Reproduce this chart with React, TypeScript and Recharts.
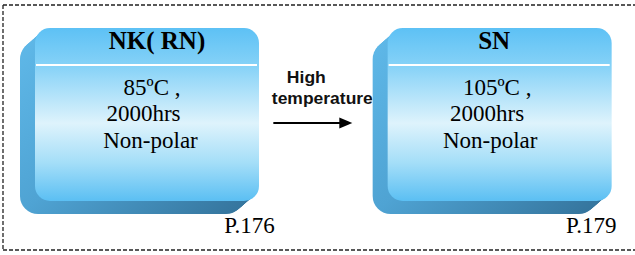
import React from "react";
import { BarChart, Bar, XAxis, YAxis, Customized } from "recharts";

// stages of the test, left to right; the middle slot holds the transition arrow
const categories = ["NK( RN)", "High temperature", "SN"];
const kinds = ["box", "arrow", "box"];
const temperatures = ["85ºC ,", "", "105ºC ,"];
const durations = ["2000hrs", "", "2000hrs"];
const polarities = ["Non-polar", "", "Non-polar"];
const pages = ["P.176", "", "P.179"];
const arrowLines = ["High", "temperature"];

const chartData = categories.map((name, i) => ({
  name,
  kind: kinds[i],
  temp: temperatures[i],
  hours: durations[i],
  polarity: polarities[i],
  page: pages[i],
  value: 1,
}));

const serif = "'Liberation Serif', 'Times New Roman', serif";
const sans = "'Liberation Sans', Arial, sans-serif";

// small per-box text nudges (title, line1, line2, line3, page)
const textShift: Record<number, number[]> = {
  0: [10, 5, -3.5, 3.5, 102.5],
  2: [-5.5, -2.5, -12.5, -9.5, 91.5],
};

const FACE_W = 224;
const DEPTH = 15;

const StageShape = (props: any) => {
  const { x, y, width, height, payload, index } = props;
  const cx = x + width / 2;

  if (payload.kind === "arrow") {
    const ay = y + 95;
    return (
      <g>
        <text x={cx - 17} y={y + 55} textAnchor="middle" fontFamily={sans} fontWeight="bold" fontSize={17} textLength={39} lengthAdjust="spacingAndGlyphs" fill="#111">
          {arrowLines[0]}
        </text>
        <text x={cx - 1} y={y + 76} textAnchor="middle" fontFamily={sans} fontWeight="bold" fontSize={17} textLength={101} lengthAdjust="spacingAndGlyphs" fill="#111">
          {arrowLines[1]}
        </text>
        <line x1={cx - 50} y1={ay} x2={cx + 18} y2={ay} stroke="#000" strokeWidth={2} />
        <polygon points={`${cx + 29},${ay} ${cx + 16},${ay - 5.5} ${cx + 16},${ay + 5.5}`} fill="#000" />
      </g>
    );
  }

  const x0 = cx - FACE_W / 2;
  const sh = textShift[index] || [0, 0, 0, 0, 0];
  const layers = [];
  for (let k = DEPTH; k >= 1; k--) {
    layers.push(
      <rect key={k} x={x0 - k} y={y + k * 0.87} width={FACE_W} height={height} rx={18} fill="url(#sideGrad)" />
    );
  }
  return (
    <g>
      {layers}
      <rect x={x0} y={y} width={FACE_W} height={height} rx={15} fill="url(#faceGrad)" />
      <line x1={x0 + 1} y1={y + 37} x2={x0 + FACE_W - 2} y2={y + 37} stroke="#fff" strokeWidth={2.2} />
      <text x={cx + sh[0]} y={y + 21} textAnchor="middle" fontFamily={serif} fontWeight="bold" fontSize={25} fill="#000">
        {payload.name}
      </text>
      <text x={cx + sh[1]} y={y + 67} textAnchor="middle" fontFamily={serif} fontSize={23} fill="#000">
        {payload.temp}
      </text>
      <text x={cx + sh[2]} y={y + 93} textAnchor="middle" fontFamily={serif} fontSize={23} fill="#000">
        {payload.hours}
      </text>
      <text x={cx + sh[3]} y={y + 120} textAnchor="middle" fontFamily={serif} fontSize={23} fill="#000">
        {payload.polarity}
      </text>
      <text x={cx + sh[4]} y={y + 205} textAnchor="middle" fontFamily={serif} fontSize={23} fill="#000">
        {payload.page}
      </text>
    </g>
  );
};

const Frame = () => (
  <g stroke="#222" strokeWidth={1.3} strokeDasharray="4 2" fill="none">
    <line x1={3} y1={5} x2={635} y2={5} />
    <line x1={3} y1={5} x2={3} y2={250} />
    <line x1={3} y1={250} x2={635} y2={250} />
  </g>
);

export default function App() {
  return (
    <div style={{ position: "absolute", left: 0, top: 0, width: 635, height: 255, background: "#fff" }}>
      <BarChart width={635} height={255} data={chartData} margin={{ top: 28, right: 47, bottom: 54, left: 59 }}>
        <defs>
          <linearGradient id="faceGrad" x1="0" y1="0" x2="0" y2="1">
            <stop offset="0%" stopColor="#5dc1f5" />
            <stop offset="22%" stopColor="#86d2f7" />
            <stop offset="55%" stopColor="#def3fc" />
            <stop offset="78%" stopColor="#a4def8" />
            <stop offset="100%" stopColor="#5bbff3" />
          </linearGradient>
          <linearGradient id="sideGrad" x1="0" y1="0" x2="1" y2="1">
            <stop offset="0%" stopColor="#5fb8e8" />
            <stop offset="50%" stopColor="#4fa3d3" />
            <stop offset="100%" stopColor="#34739b" />
          </linearGradient>
        </defs>
        <XAxis dataKey="name" hide />
        <YAxis hide domain={[0, 1]} />
        <Customized component={Frame} />
        <Bar dataKey="value" barSize={10} shape={StageShape} isAnimationActive={false} />
      </BarChart>
    </div>
  );
}
